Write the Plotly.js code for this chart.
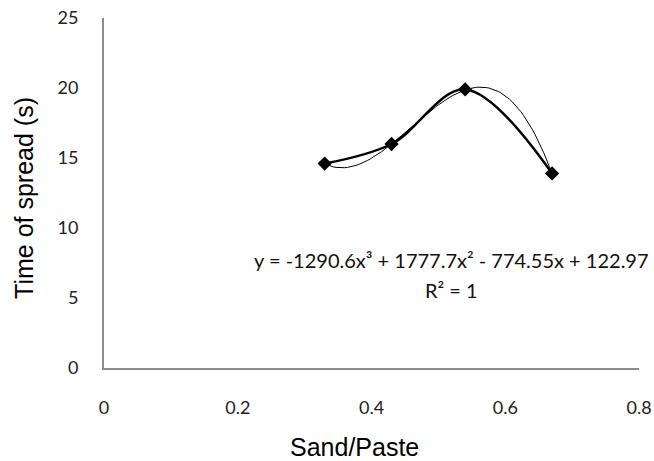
<!DOCTYPE html>
<html>
<head>
<meta charset="utf-8">
<script src="https://cdn.plot.ly/plotly-3.0.1.min.js"></script>
<style>html,body{margin:0;padding:0;background:#fff;}#chart{width:654px;height:461px;}</style>
</head>
<body>
<div id="chart"></div>
<script>
// Data
const sandPaste = [0.33, 0.43, 0.54, 0.67];
const spreadTime = [14.6, 16.0, 19.9, 13.9];
// Cubic trendline coefficients shown on the chart (x^3, x^2, x, const)
const trendCoeffs = [-1290.6, 1777.7, -774.55, 122.97];
const xTicks = [0, 0.2, 0.4, 0.6, 0.8];
const xTickText = ['0', '0.2', '0.4', '0.6', '0.8'];
const yTicks = [0, 5, 10, 15, 20, 25];
const equationLine = 'y = -1290.6x³ + 1777.7x² - 774.55x + 122.97';
const r2Line = 'R² = 1';
const xTitle = 'Sand/Paste';
const yTitle = 'Time of spread (s)';

// Evaluate the displayed trendline over the span of the data
const xMin = Math.min(...sandPaste), xMax = Math.max(...sandPaste);
const trendX = [], trendY = [];
const steps = 80;
for (let i = 0; i <= steps; i++) {
  const x = xMin + (xMax - xMin) * i / steps;
  trendX.push(x);
  trendY.push(trendCoeffs[0]*x*x*x + trendCoeffs[1]*x*x + trendCoeffs[2]*x + trendCoeffs[3]);
}

const tickFont = {family: 'Lato, "Open Sans", sans-serif', size: 18, color: '#222'};
const titleFont = {family: '"Liberation Sans", Arial, sans-serif', size: 25, color: '#000'};
const eqFont = {family: 'Lato, "Open Sans", sans-serif', size: 20, color: '#111'};

const data = [
  {x: trendX, y: trendY, mode: 'lines', line: {color: '#000', width: 1}, hoverinfo: 'skip', showlegend: false},
  {x: sandPaste, y: spreadTime, mode: 'lines+markers',
   line: {color: '#000', width: 2.5, shape: 'spline', smoothing: 1},
   marker: {symbol: 'diamond', size: 11, color: '#000'}, showlegend: false}
];

const layout = {
  width: 654, height: 461,
  margin: {l: 104, r: 15, t: 18, b: 93},
  paper_bgcolor: '#fff', plot_bgcolor: '#fff',
  xaxis: {
    range: [0, 0.8], tickvals: xTicks, ticktext: xTickText,
    showgrid: false, zeroline: false, showline: true, linecolor: '#8c8c8c', linewidth: 2,
    ticks: '', tickfont: tickFont, ticklabelstandoff: 22
  },
  yaxis: {
    range: [0, 25], tickvals: yTicks,
    showgrid: false, zeroline: false, showline: true, linecolor: '#8c8c8c', linewidth: 2,
    ticks: '', tickfont: tickFont, ticklabelstandoff: 20
  },
  annotations: [
    {x: 0.519, y: 7.7, xref: 'x', yref: 'y', text: equationLine, showarrow: false, font: eqFont,
     xanchor: 'center', yanchor: 'middle'},
    {x: 0.52, y: 5.6, xref: 'x', yref: 'y', text: r2Line, showarrow: false, font: eqFont,
     xanchor: 'center', yanchor: 'middle'},
    {x: 0.469, y: -0.2257, xref: 'paper', yref: 'paper', text: xTitle, showarrow: false, font: titleFont,
     xanchor: 'center', yanchor: 'middle'},
    {x: -0.1495, y: 0.486, xref: 'paper', yref: 'paper', text: yTitle, textangle: -90, showarrow: false,
     font: titleFont, xanchor: 'center', yanchor: 'middle'}
  ]
};

Plotly.newPlot('chart', data, layout, {displayModeBar: false, staticPlot: true});
</script>
</body>
</html>
